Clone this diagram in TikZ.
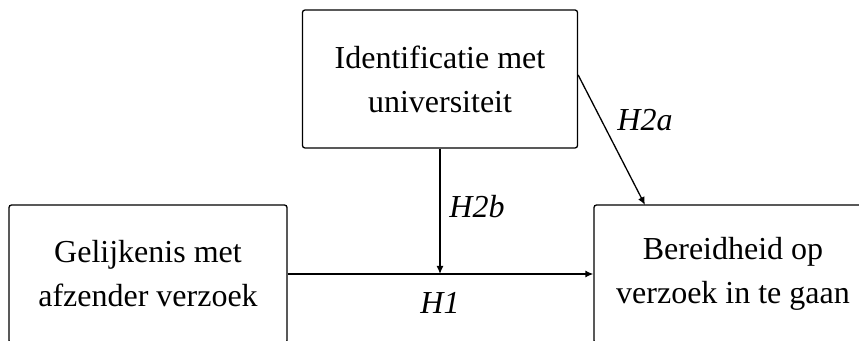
\documentclass[tikz,border=0pt]{standalone}
\usepackage{fontspec}
\setmainfont{Liberation Serif}
\usetikzlibrary{arrows.meta}
\begin{document}
\begin{tikzpicture}
  [x=1pt,y=1pt,line width=1.3pt,
   box/.style={draw,rounded corners=2.5pt,align=center,minimum height=138pt,
     font=\fontsize{32}{44}\selectfont},
   lab/.style={font=\fontsize{32}{36}\selectfont\itshape},
   arr/.style={-{Latex[length=8pt,width=7pt]}}]
  \useasboundingbox (0,0) rectangle (859,340);
  \node[box,minimum width=275pt] (n1) at (440,261) {Identificatie met\\universiteit};
  \node[box,minimum width=278pt] (n2) at (148,66)  {Gelijkenis met\\afzender verzoek};
  \node[box,minimum width=278pt] (n3) at (733,66)  {Bereidheid op\\verzoek in te gaan};
  \coordinate (m) at (n1.south |- n2.east);
  \coordinate (t) at (645,135);
  \draw[arr] (n2.east) -- (n3.west);
  \draw[arr] (n1.south) -- (m);
  \draw[arr] ([yshift=4pt]n1.east) -- (t);
  \node[lab] (h1)  at (440,37)  {H1};
  \node[lab] (h2a) at (645,220) {H2a};
  \node[lab] (h2b) at (477,133) {H2b};
\end{tikzpicture}
\end{document}
